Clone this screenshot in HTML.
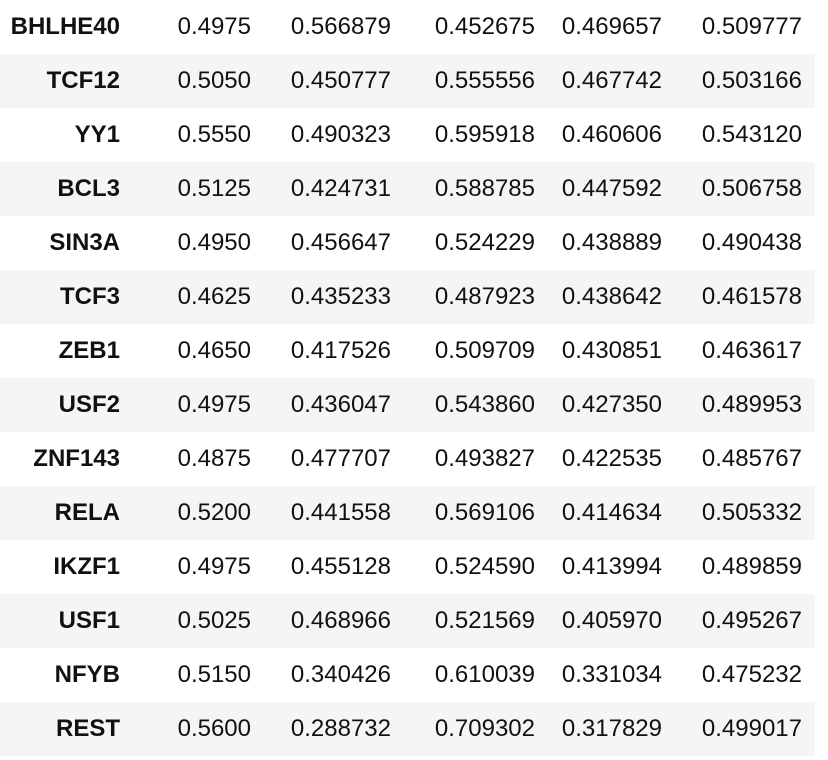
<!DOCTYPE html>
<html><head><meta charset="utf-8"><style>
body{margin:0;width:828px;height:760px;background:#fff;overflow:hidden;font-family:"Liberation Sans",Arial,sans-serif;}
table{border-collapse:collapse;width:815px;table-layout:fixed;}
td{height:54px;padding:0;text-align:right;font-size:24px;color:#111;white-space:nowrap;}
tr:nth-child(even) td{background:#f5f5f5;}
td.l{font-weight:bold;width:120px;}
col.c1{width:120px}col.c2{width:131px}col.c3{width:140px}col.c4{width:144px}col.c5{width:127px}
td.p{padding-right:13px}
</style></head><body>
<table>
<colgroup><col class="c1"><col class="c2"><col class="c3"><col class="c4"><col class="c5"><col style="width:153px"></colgroup>
<tbody id="tb"></tbody></table>
<script>
const labels=["BHLHE40","TCF12","YY1","BCL3","SIN3A","TCF3","ZEB1","USF2","ZNF143","RELA","IKZF1","USF1","NFYB","REST"];
const rows=[
["0.4975","0.566879","0.452675","0.469657","0.509777"],
["0.5050","0.450777","0.555556","0.467742","0.503166"],
["0.5550","0.490323","0.595918","0.460606","0.543120"],
["0.5125","0.424731","0.588785","0.447592","0.506758"],
["0.4950","0.456647","0.524229","0.438889","0.490438"],
["0.4625","0.435233","0.487923","0.438642","0.461578"],
["0.4650","0.417526","0.509709","0.430851","0.463617"],
["0.4975","0.436047","0.543860","0.427350","0.489953"],
["0.4875","0.477707","0.493827","0.422535","0.485767"],
["0.5200","0.441558","0.569106","0.414634","0.505332"],
["0.4975","0.455128","0.524590","0.413994","0.489859"],
["0.5025","0.468966","0.521569","0.405970","0.495267"],
["0.5150","0.340426","0.610039","0.331034","0.475232"],
["0.5600","0.288732","0.709302","0.317829","0.499017"]];
const tb=document.getElementById('tb');
labels.forEach((lab,i)=>{
 const tr=document.createElement('tr');
 
 
 const th=document.createElement('td');th.className='l';th.textContent=lab;
 
 
 tr.appendChild(th);
 rows[i].forEach((v,j)=>{
  const td=document.createElement('td');td.textContent=v;
  if(j===4)td.className='p';
  
  
  tr.appendChild(td);
 });
 tb.appendChild(tr);
});
</script>
</body></html>
